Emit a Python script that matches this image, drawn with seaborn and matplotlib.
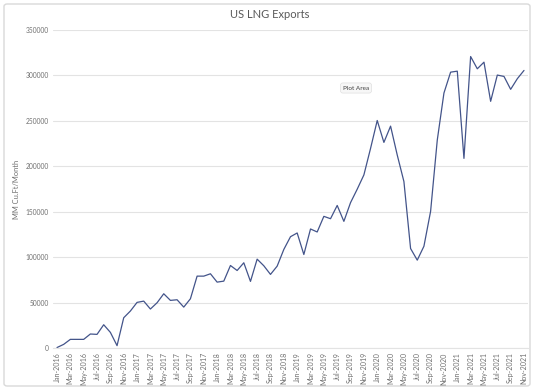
#!/usr/bin/env python3

import matplotlib

matplotlib.use("Agg")

import matplotlib.pyplot as plt
import pandas as pd
import seaborn as sns
from matplotlib.patches import FancyBboxPatch

# monthly US LNG exports, Jan-2016 .. Nov-2021 (MM Cu.Ft/Month)
months = pd.date_range("2016-01-01", "2021-11-01", freq="MS").strftime("%b-%Y").tolist()
exports = [
    500, 4000, 9500, 9500, 9500, 15400, 15000, 25600, 17200, 2600, 33300, 40700,
    50200, 51600, 42900, 49800, 59700, 52400, 53100, 45000, 54200, 79100, 79100, 81700,
    72500, 73600, 90800, 85300, 93800, 73300, 97800, 90500, 81000, 90100, 108500, 122500,
    126600, 102900, 131000, 127700, 144900, 142300, 156900, 139400, 160000, 174800, 190500, 219700,
    250400, 226300, 244200, 212400, 183200, 109500, 96700, 112000, 150400, 228800, 280600, 303600,
    304700, 208700, 320800, 307300, 314600, 271500, 300400, 298900, 284700, 296400, 305500,
]
y_ticks = [0, 50000, 100000, 150000, 200000, 250000, 300000, 350000]


def main() -> None:
    sns.set_theme(style="white")
    plt.rcParams["font.family"] = ["Lato", "DejaVu Sans"]

    df = pd.DataFrame({"pos": range(len(months)), "month": months, "value": exports})

    fig = plt.figure(figsize=(5.4, 3.89), dpi=100)
    fig.patches.append(
        FancyBboxPatch(
            (4 / 540, 3 / 389), 526 / 540, 382 / 389,
            boxstyle="round,pad=0,rounding_size=0.006",
            transform=fig.transFigure, facecolor="white",
            edgecolor="#d9d9d9", linewidth=1.0, zorder=-1,
        )
    )
    ax = fig.add_axes([53 / 540, 1 - 348 / 389, 475 / 540, 318 / 389])
    ax.set_facecolor("none")

    sns.lineplot(data=df, x="pos", y="value", ax=ax, color="#43548a", linewidth=0.9)

    ax.set_xlim(-0.6, len(months) - 1 + 0.6)
    ax.set_ylim(0, 350000)
    ax.set_yticks(y_ticks)
    ax.set_yticklabels([str(v) for v in y_ticks])
    ax.set_xticks(df["pos"][::2])
    ax.set_xticklabels(df["month"][::2], rotation=90)
    ax.tick_params(axis="both", length=0, labelcolor="#707070", pad=3)
    ax.tick_params(axis="y", labelsize=4.8)
    ax.tick_params(axis="x", labelsize=5.1)
    ax.yaxis.grid(True, color="#e3e3e3", linewidth=0.8)
    ax.xaxis.grid(False)
    for side in ("top", "left", "right"):
        ax.spines[side].set_visible(False)
    ax.spines["bottom"].set_color("#e3e3e3")
    ax.spines["bottom"].set_linewidth(0.8)

    ax.set_xlabel("")
    ax.set_ylabel("MM Cu.Ft/Month", fontsize=5.4, color="#707070", labelpad=4)
    fig.text(0.5, 1 - 15 / 389, "US LNG Exports", ha="center", va="center",
             fontsize=8, color="#595959")

    fig.text(356 / 540, 1 - 88 / 389, "Plot Area", ha="center", va="center",
             fontsize=4.6, color="#404040",
             bbox=dict(boxstyle="round,pad=0.4", facecolor="#f7f7f7",
                       edgecolor="#e0e0e0", linewidth=0.5))

    fig.savefig("out.png", dpi=100)


if __name__ == "__main__":
    main()
